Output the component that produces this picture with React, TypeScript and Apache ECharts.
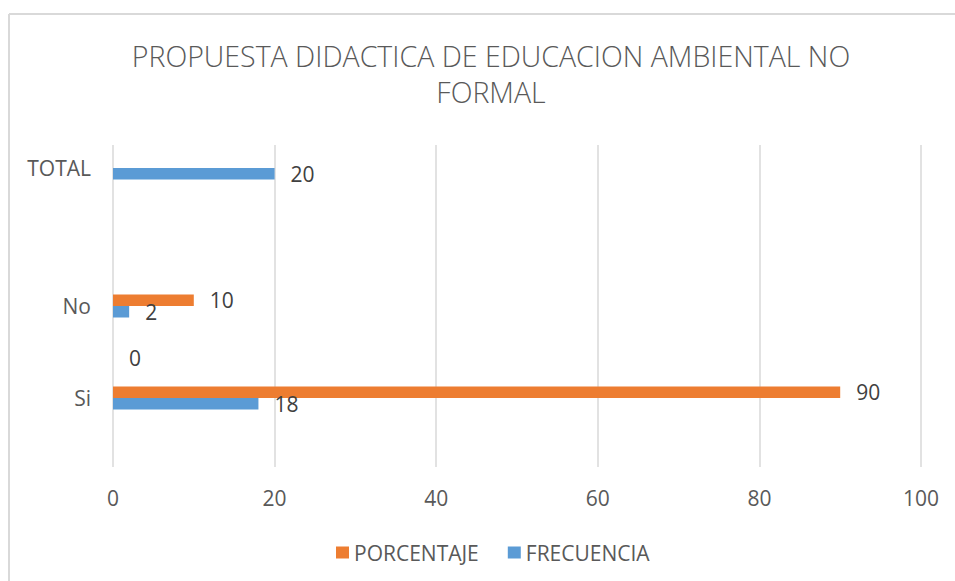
import React, { useEffect, useRef } from "react";
import * as echarts from "echarts";

const categories = ["", "Si", "", "No", "", "", "TOTAL"];
const porcentaje = [null, 90, null, 10, null, null, null];
const frecuencia = [null, 18, 0, 2, null, null, 20];
const xTicks = { min: 0, max: 100, interval: 20 };
const titleText = "PROPUESTA DIDACTICA DE EDUCACION AMBIENTAL NO\nFORMAL";

const FONT = "'Open Sans', sans-serif";

export default function App() {
  const ref = useRef<HTMLDivElement>(null);
  useEffect(() => {
    document.body.style.margin = "0";
    const chart = echarts.init(ref.current!, null, { renderer: "svg" });
    const labelStyle = {
      show: true,
      position: "right",
      distance: 16,
      color: "#404040",
      fontSize: 21,
      fontFamily: FONT,
    };
    chart.setOption({
      animation: false,
      backgroundColor: "#ffffff",
      textStyle: { fontFamily: FONT },
      title: {
        text: titleText,
        left: 491,
        textAlign: "center",
        top: 38,
        padding: 0,
        textStyle: {
          color: "#595959",
          fontSize: 28.5,
          fontWeight: 300,
          lineHeight: 36,
          fontFamily: FONT,
        },
      },
      legend: {
        left: 331,
        top: 537,
        itemWidth: 13,
        itemHeight: 12,
        itemGap: 29,
        icon: "rect",
        textStyle: { color: "#595959", fontSize: 21, fontFamily: FONT },
        data: ["PORCENTAJE", "FRECUENCIA"],
      },
      graphic: [
        {
          type: "line",
          shape: { x1: 9, y1: 14, x2: 960, y2: 14 },
          style: { stroke: "#d9d9d9", lineWidth: 2 },
          silent: true,
        },
        {
          type: "line",
          shape: { x1: 9, y1: 14, x2: 9, y2: 590 },
          style: { stroke: "#d9d9d9", lineWidth: 2 },
          silent: true,
        },
      ],
      grid: { left: 113, right: 34, top: 145, bottom: 114 },
      xAxis: {
        type: "value",
        min: xTicks.min,
        max: xTicks.max,
        interval: xTicks.interval,
        axisLine: { show: false },
        axisTick: { show: false },
        splitLine: { lineStyle: { color: "#d9d9d9", width: 1.5 } },
        axisLabel: { color: "#595959", fontSize: 21, margin: 20, fontFamily: FONT },
      },
      yAxis: {
        type: "category",
        data: categories,
        axisLine: { show: false },
        axisTick: { show: false },
        axisLabel: { color: "#595959", fontSize: 21, margin: 22, fontFamily: FONT },
      },
      series: [
        {
          name: "PORCENTAJE",
          type: "bar",
          data: porcentaje,
          itemStyle: { color: "#ED7D31" },
          barGap: "0%",
          barCategoryGap: "50%",
          label: labelStyle,
        },
        {
          name: "FRECUENCIA",
          type: "bar",
          data: frecuencia,
          itemStyle: { color: "#5B9BD5" },
          barGap: "0%",
          barCategoryGap: "50%",
          label: labelStyle,
        },
      ],
    });
    return () => chart.dispose();
  }, []);
  return <div ref={ref} style={{ width: 955, height: 581 }} />;
}
